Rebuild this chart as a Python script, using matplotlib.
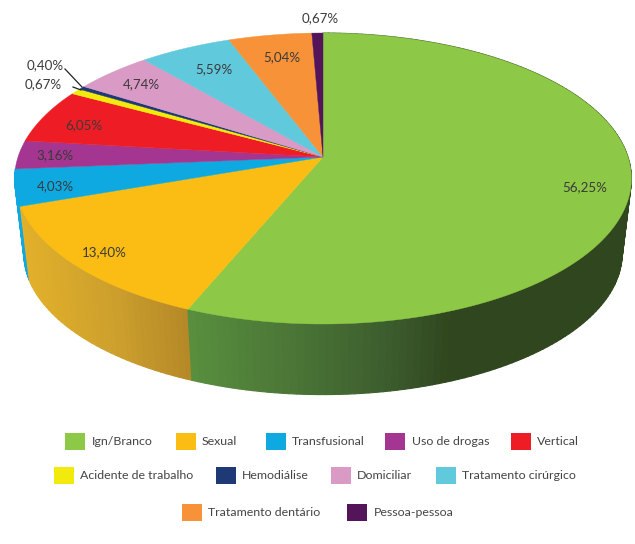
import numpy as np
import matplotlib
matplotlib.use("Agg")
import matplotlib.pyplot as plt
from matplotlib.collections import PolyCollection
from matplotlib.patches import Polygon, Rectangle

categories = ["Ign/Branco", "Sexual", "Transfusional", "Uso de drogas", "Vertical",
              "Acidente de trabalho", "Hemodiálise", "Domiciliar",
              "Tratamento cirúrgico", "Tratamento dentário", "Pessoa-pessoa"]
values = [56.25, 13.40, 4.03, 3.16, 6.05, 0.67, 0.40, 4.74, 5.59, 5.04, 0.67]
value_labels = ["56,25%", "13,40%", "4,03%", "3,16%", "6,05%", "0,67%", "0,40%",
                "4,74%", "5,59%", "5,04%", "0,67%"]
colors = ["#8DC846", "#FBBD14", "#0DA9E0", "#A43590", "#EE1C25", "#F2EA0C",
          "#1F3876", "#D99AC5", "#61C9DC", "#F79239", "#54145A"]

# label centres in pixel axes
label_pos = [(585, 187), (104, 252), (55, 186), (55, 155), (84, 125), (43, 84),
             (45, 65), (141, 84), (214, 69), (282, 57), (320, 18)]
# legend layout: (swatch left, swatch top, text left)
legend_pos = [(65, 433, 92), (176, 433, 202), (266, 433, 292), (385, 433, 412), (511, 433, 537),
              (54, 467, 80), (216, 467, 242), (331, 467, 357), (436, 467, 462),
              (182, 504, 208), (347, 504, 374)]

W, H = 635, 544
fig = plt.figure(figsize=(W / 100, H / 100), dpi=100)
ax = fig.add_axes([0, 0, 1, 1])
ax.set_xlim(0, W)
ax.set_ylim(H, 0)
ax.axis("off")

family = "Lato"
FS = 9.6
LEGEND_FS = 8.9

# perspective projection of the unit disc
CX, CY, A, B, C = 323.0, 157.0, 305.0, 142.3, 0.1478
EY, SCALE, DEPTH = 178.0, 0.97, 75.0


def top_rim(frac):
    th = 2 * np.pi * np.asarray(frac)
    u, v = np.sin(th), np.cos(th)
    w = 1 + C * v
    return CX + A * u / w, CY - B * v / w


def bottom_rim(frac):
    x, y = top_rim(frac)
    return CX + (x - CX) * SCALE, EY + (y - EY) * SCALE + DEPTH


def shade(i, x):
    if i == 0:
        st = np.array([[88, 142, 62], [75, 118, 55], [60, 92, 45], [48, 70, 30], [48, 70, 30]]) / 255
        xs = [190, 290, 390, 450, 640]
    elif i == 1:
        st = np.array([[226, 176, 42], [205, 160, 45], [180, 135, 40]]) / 255
        xs = [20, 110, 190]
    else:
        return matplotlib.colors.to_rgb(colors[i])
    return tuple(np.interp(x, xs, st[:, k]) for k in range(3))


edges = np.concatenate([[0], np.cumsum(values)]) / np.sum(values)

# side wall: only the three front slices show, nearest drawn last
for i in (2, 1, 0):
    n = max(2, int((edges[i + 1] - edges[i]) * 300))
    fr = np.linspace(edges[i], edges[i + 1], n + 1)
    tx, ty = top_rim(fr)
    bx, by = bottom_rim(fr)
    polys, cols = [], []
    for j in range(n):
        polys.append([(tx[j], ty[j]), (tx[j + 1], ty[j + 1]), (bx[j + 1], by[j + 1]), (bx[j], by[j])])
        cols.append(shade(i, (tx[j] + tx[j + 1]) / 2))
    ax.add_collection(PolyCollection(polys, facecolors=cols, edgecolors=cols, linewidths=0.8, zorder=1))

# top surface
for i, c in enumerate(colors):
    fr = np.linspace(edges[i], edges[i + 1], max(4, int((edges[i + 1] - edges[i]) * 720)))
    x, y = top_rim(fr)
    pts = np.column_stack([np.r_[CX, x], np.r_[CY, y]])
    ax.add_patch(Polygon(pts, closed=True, facecolor=c, edgecolor=c, linewidth=0.3, zorder=2))

# value labels
for lab, (x, y) in zip(value_labels, label_pos):
    ax.text(x, y, lab, ha="center", va="center", fontsize=FS, color="#3A3A3A",
            family=family, zorder=4)

# leader lines
ax.plot([65, 82], [69, 87], color="#222222", lw=0.9, zorder=3)
ax.plot([73, 81], [87, 90], color="#222222", lw=0.9, zorder=3)

# legend
for name, c, (sx, sy, tx) in zip(categories, colors, legend_pos):
    ax.add_patch(Rectangle((sx, sy), 20, 17, facecolor=c, edgecolor="none", zorder=3))
    ax.text(tx, sy + 8.5, name, ha="left", va="center", fontsize=LEGEND_FS, color="#444444",
            family=family, zorder=4)

fig.savefig("out.png", dpi=100)
